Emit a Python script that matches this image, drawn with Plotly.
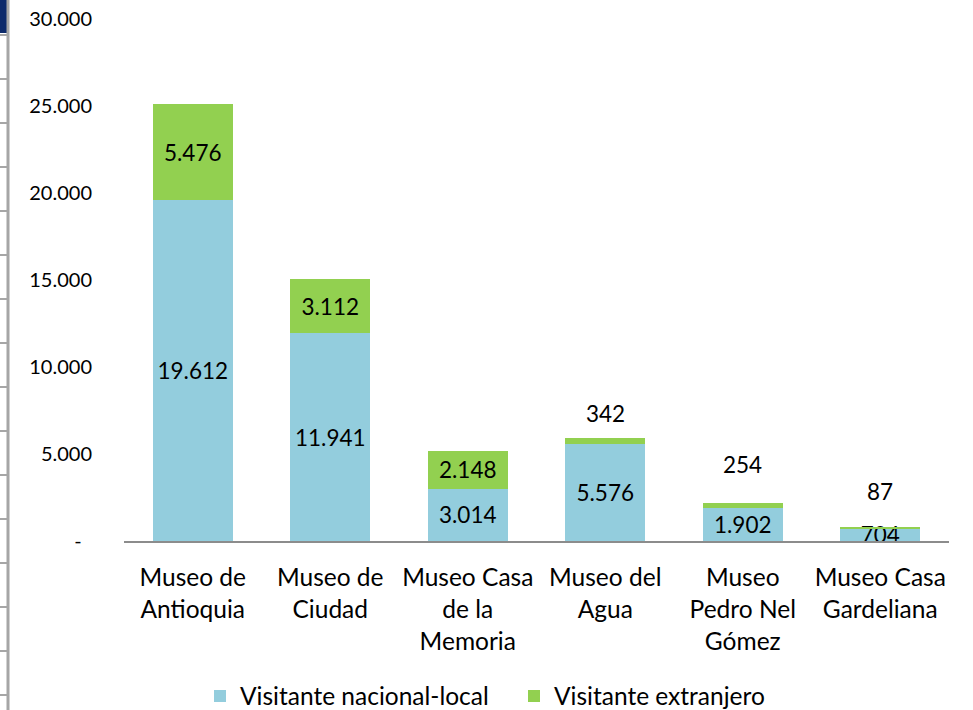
import plotly.graph_objects as go

categories = ["Museo de<br>Antioquia", "Museo de<br>Ciudad", "Museo Casa<br>de la<br>Memoria",
              "Museo del<br>Agua", "Museo<br>Pedro Nel<br>Gómez", "Museo Casa<br>Gardeliana"]
nacional_local = [19612, 11941, 3014, 5576, 1902, 704]
extranjero = [5476, 3112, 2148, 342, 254, 87]
tick_values = [0, 5000, 10000, 15000, 20000, 25000, 30000]
tick_labels = ["-\u00a0\u00a0", "5.000", "10.000", "15.000", "20.000", "25.000", "30.000"]

FONT = "Lato, 'Open Sans', Arial, sans-serif"
BLUE = "#93CDDD"
GREEN = "#92D050"
LABEL_SIZE = 22.5
CAT_SIZE = 24.5

def fmt(v):
    return f"{v:,}".replace(",", ".")

fig = go.Figure()
fig.add_trace(go.Bar(
    x=categories, y=nacional_local, name="Visitante nacional-local",
    marker=dict(color=BLUE, line=dict(width=0)),
    text=[fmt(v) for v in nacional_local], textposition="inside",
    insidetextanchor="middle", constraintext="none",
    textfont=dict(family=FONT, size=LABEL_SIZE, color="black"),
))
inside_green = [v >= 1000 for v in extranjero]
fig.add_trace(go.Bar(
    x=categories, y=extranjero, name="Visitante extranjero",
    marker=dict(color=GREEN, line=dict(width=0)),
    text=[fmt(v) if ok else "" for v, ok in zip(extranjero, inside_green)],
    textposition="inside", insidetextanchor="middle", constraintext="none",
    textfont=dict(family=FONT, size=LABEL_SIZE, color="black"),
))

shifts = [25, 39, 36]
k = 0
for c, a, b, ok in zip(categories, nacional_local, extranjero, inside_green):
    if not ok:
        fig.add_annotation(x=c, y=a + b, text=fmt(b), showarrow=False,
                           yanchor="middle", yshift=shifts[k],
                           font=dict(family=FONT, size=LABEL_SIZE, color="black"))
        k += 1

# spreadsheet border remnants at the left edge of the picture
L, W = 124, 825
def px(xp):
    return (xp - L) / W
def py(yp):
    return (541 - yp) / 522
shapes = [
    dict(type="rect", xref="paper", yref="paper", x0=px(0), x1=px(7), y0=py(33), y1=py(0),
         fillcolor="#0D2A6B", line=dict(width=0), layer="above"),
    dict(type="line", xref="paper", yref="paper", x0=px(8), x1=px(8), y0=py(710), y1=py(0),
         line=dict(color="#A6A6A6", width=3)),
]
for i in range(16):
    yy = 35 + 44 * i
    shapes.append(dict(type="line", xref="paper", yref="paper", x0=px(0), x1=px(7),
                       y0=py(yy), y1=py(yy), line=dict(color="#A6A6A6", width=2)))

fig.update_layout(
    barmode="stack", bargap=0.42,
    width=973, height=710,
    margin=dict(l=124, r=24, t=19, b=169, autoexpand=False),
    paper_bgcolor="white", plot_bgcolor="white",
    font=dict(family=FONT, size=20, color="black"),
    showlegend=True,
    legend=dict(orientation="h", x=px(200), xanchor="left", y=py(696), yanchor="middle",
                font=dict(family=FONT, size=CAT_SIZE, color="black"), traceorder="normal",
                itemwidth=30, entrywidth=269),
    shapes=shapes,
)
fig.update_xaxes(showline=True, linecolor="#8C8C8C", linewidth=2, ticks="",
                 tickfont=dict(family=FONT, size=CAT_SIZE, color="black"),
                 ticklabelstandoff=14, showgrid=False, automargin=False)
fig.update_yaxes(range=[0, 30000], tickvals=tick_values, ticktext=tick_labels,
                 showline=False, showgrid=False, zeroline=False, ticks="",
                 tickfont=dict(family=FONT, size=20, color="black"),
                 ticklabelstandoff=31, automargin=False)

fig.write_html("out.html", config={"displayModeBar": False},
               post_script="document.body.style.margin='0';")
